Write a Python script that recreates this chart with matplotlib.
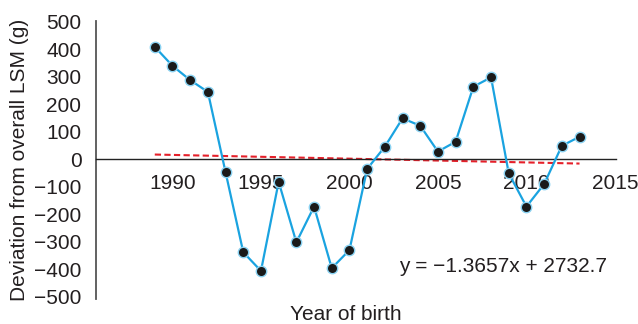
import matplotlib.pyplot as plt
import matplotlib.ticker as mticker
import numpy as np

plt.rcParams['font.family'] = ['Liberation Sans', 'DejaVu Sans']

# deviation from overall LSM per year of birth
years = list(range(1989, 2014))
deviation = [408, 339, 287, 244, -48, -339, -407, -83, -303, -173, -397, -331,
             -36, 45, 148, 121, 27, 63, 263, 297, -52, -173, -91, 48, 81]

# trend line printed on the chart
slope = -1.3657
intercept = 2732.7
eq_label = "y = \u22121.3657x + 2732.7"

txt = '#231f20'

fig = plt.figure(figsize=(6.38, 3.24), dpi=100)
ax = fig.add_axes([0.1505, 0.0772, 0.815, 0.858])

ax.plot(years, deviation, color='#1aa3e0', lw=1.6, marker='o', ms=7.5,
        mfc='#1a1a1a', mec='#8ad2f2', mew=1.0, zorder=3)

trend_x = np.array([years[0], years[-1]])
ax.plot(trend_x, slope * trend_x + intercept, color='#e5202a', lw=1.5,
        ls=(0, (3, 1.6)), zorder=2)

ax.set_xlim(1985.68, 2015.06)
ax.set_ylim(-509, 502)

for s in ['top', 'right']:
    ax.spines[s].set_visible(False)
ax.spines['bottom'].set_position(('data', 0))
ax.spines['bottom'].set_color('#222222')
ax.spines['bottom'].set_linewidth(1.0)
ax.spines['left'].set_color('#555555')
ax.spines['left'].set_linewidth(1.3)

ax.set_xticks([1990, 1995, 2000, 2005, 2010, 2015])
ax.set_yticks(range(-500, 501, 100))
ax.yaxis.set_minor_locator(mticker.FixedLocator([0]))
ax.tick_params(axis='x', length=0, pad=11, labelsize=15, labelcolor=txt)
ax.tick_params(axis='y', which='major', length=0, pad=10.5, labelsize=15,
               labelcolor=txt)
ax.tick_params(axis='y', which='minor', length=9, width=1.0, color='#222222')

ax.set_ylabel("Deviation from overall LSM (g)", fontsize=15, color=txt,
              labelpad=4)
fig.text(0.542, 0.0, "Year of birth", fontsize=15, color=txt,
         ha='center', va='bottom')
fig.text(0.788, 0.179, eq_label, fontsize=15, color=txt,
         ha='center', va='center')

fig.savefig('out.png', dpi=100)
